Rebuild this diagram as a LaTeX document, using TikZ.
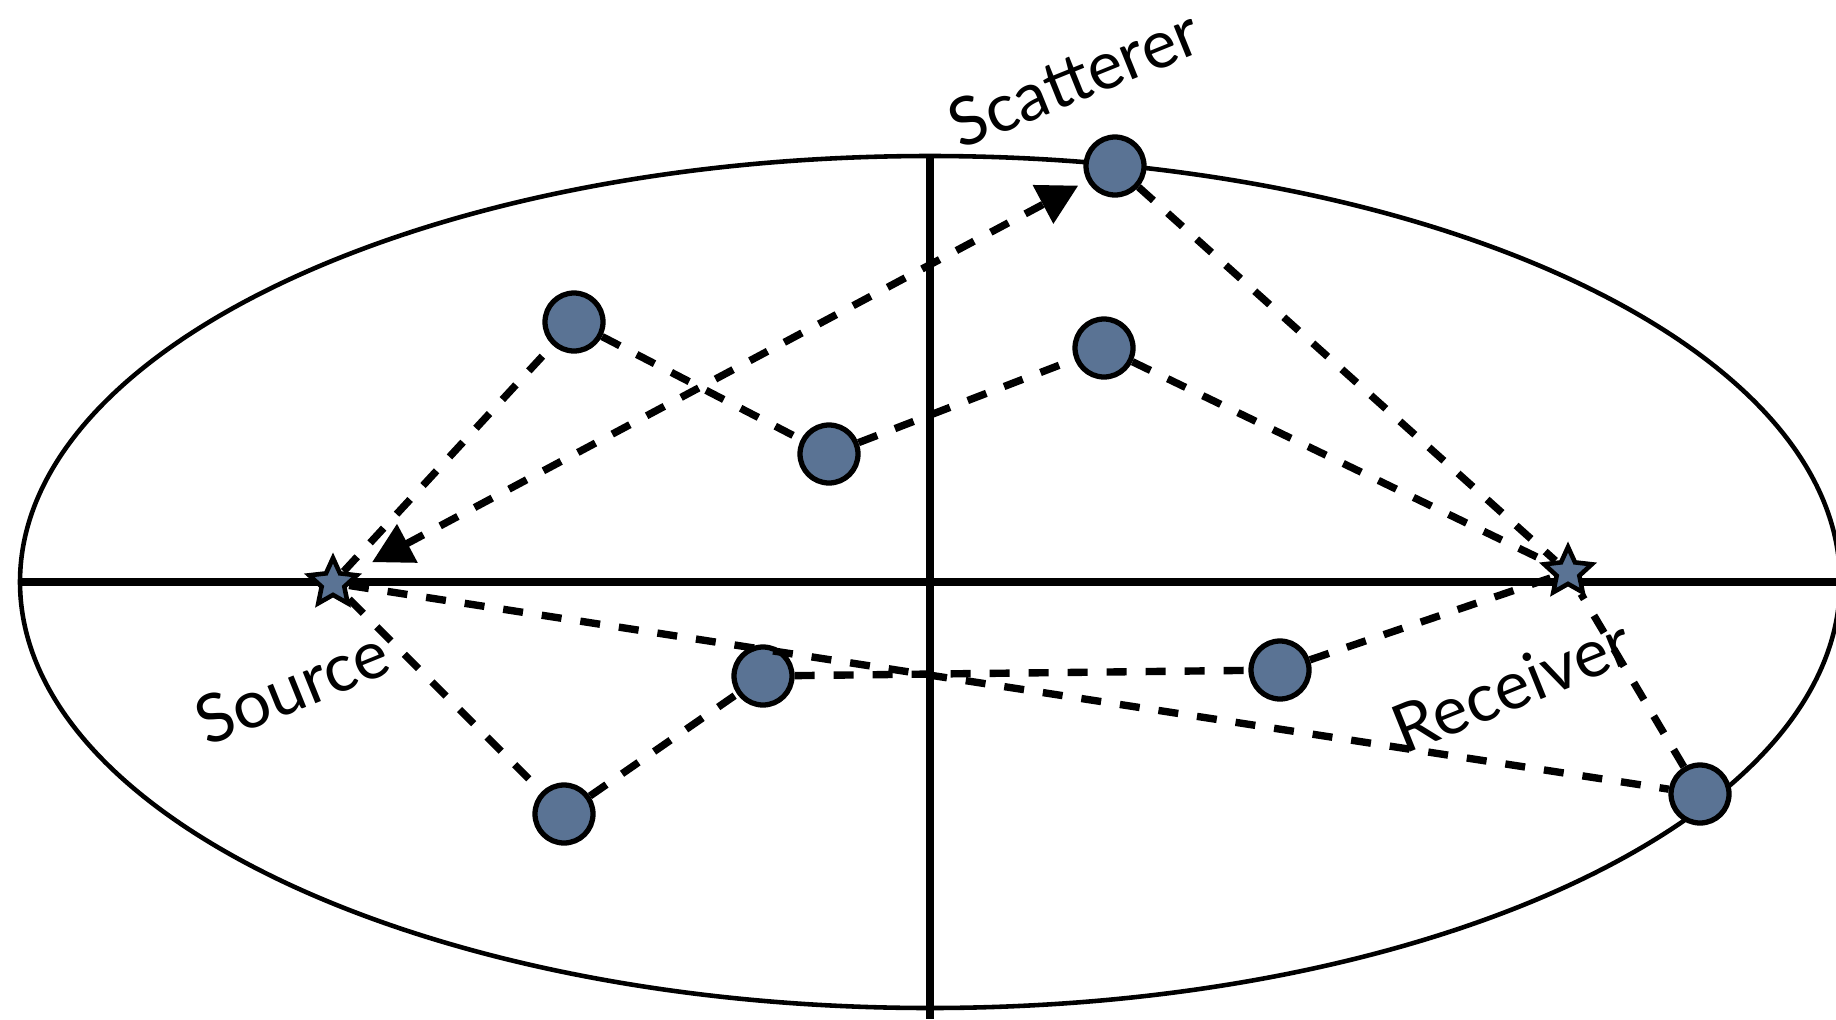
\documentclass[tikz,border=0pt]{standalone}
\usepackage{fontspec}
\setsansfont{Lato}
\usepackage{tikz}
\usetikzlibrary{arrows.meta,shapes.geometric,positioning}
\definecolor{ballblue}{RGB}{90,115,148}
\tikzset{
  >={Triangle[length=4mm,width=4.2mm]},
  ball/.style={circle, draw, line width=1.5pt, fill=ballblue, minimum size=5.8mm, inner sep=0pt},
  endpt/.style={star, star points=5, star point ratio=2.1, draw, line width=1.3pt, fill=ballblue, minimum size=5mm, inner sep=0pt},
  ray/.style={line width=2.1pt, dash pattern=on 2mm off 1.9mm},
  tag/.style={font=\sffamily\fontsize{19}{22}\selectfont, rotate=22, inner sep=0pt},
}

\begin{document}
\begin{tikzpicture}
\useasboundingbox (0,0) rectangle (18.36,-10.19);
\clip (0,0) rectangle (18.36,-10.19);
% the ellipse and its two axes
\draw[line width=1.3pt] (9.30,-5.82) ellipse [x radius=9.10, y radius=4.26];
\coordinate (west) at (0.20,-5.82);
\coordinate (east) at (18.36,-5.82);
\coordinate (north) at (9.30,-1.56);
\coordinate (south) at (9.30,-10.19);
\draw[line width=2.2pt] (west) -- (east);
\draw[line width=2.2pt] (north) -- (south);

% source, receiver and scatterers
\node[endpt] (src) at (3.33,-5.83) {};
\node[endpt] (rcv) at (15.68,-5.72) {};
\node[ball] (sct) at (11.15,-1.66) {};
\node[ball] (a) at (5.74,-3.22) {};
\node[ball] (b) at (8.29,-4.54) {};
\node[ball] (c) at (11.04,-3.48) {};
\node[ball] (d) at (7.63,-6.76) {};
\node[ball] (e) at (5.64,-8.14) {};
\node[ball] (f) at (12.80,-6.70) {};
\node[ball] (g) at (17.00,-7.94) {};

\node[tag] (scttag) at (10.74,-0.78) {Scatterer};
\node[tag] (srctag) at (2.92,-6.87) {Source};
\node[tag] (rcvtag) at (15.12,-6.85) {Receiver};

% rays
\path[ray]
(src) edge[<->, shorten <=2.2mm, shorten >=1mm] (sct)
(sct) edge (rcv)
(src) edge (a)
(a) edge (b)
(b) edge (c)
(c) edge (rcv)
(src) edge (e)
(e) edge (d)
(d) edge (f)
(f) edge (rcv)
(src) edge (g)
(g) edge (rcv);
\end{tikzpicture}
\end{document}
